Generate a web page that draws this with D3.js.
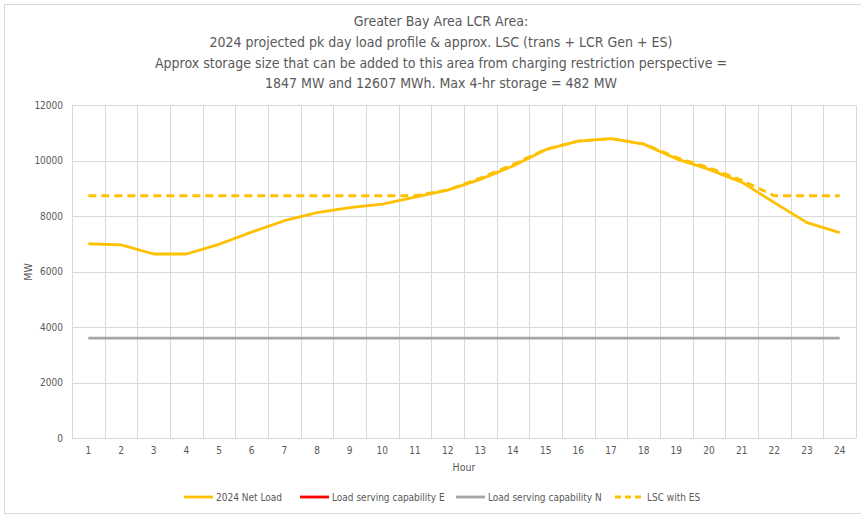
<!DOCTYPE html>
<html>
<head>
<meta charset="utf-8">
<script src="https://cdn.jsdelivr.net/npm/d3@7"></script>
<style>
  body { margin: 0; background: #fff; }
  svg text { font-family: "Liberation Sans Narrow", "DejaVu Sans Condensed", sans-serif; fill: #595959; }
</style>
</head>
<body>
<svg width="861" height="515"></svg>
<script>
var hours = [1,2,3,4,5,6,7,8,9,10,11,12,13,14,15,16,17,18,19,20,21,22,23,24]
var netLoad = [7000,6960,6630,6630,6980,7420,7830,8120,8300,8430,8680,8930,9320,9800,10390,10700,10790,10590,10060,9680,9220,8480,7760,7400]
// series E shows in the legend only, no plotted values
var lscE = [null,null,null,null,null,null,null,null,null,null,null,null,null,null,null,null,null,null,null,null,null,null,null,null]
var lscN = [3600,3600,3600,3600,3600,3600,3600,3600,3600,3600,3600,3600,3600,3600,3600,3600,3600,3600,3600,3600,3600,3600,3600,3600]
var lscES = [8730,8730,8730,8730,8730,8730,8730,8730,8730,8730,8730,8940,9370,9860,10400,10700,10790,10600,10110,9740,9290,8730,8730,8730]
var yTicks = [0,2000,4000,6000,8000,10000,12000]
var titleLines = [
  'Greater Bay Area LCR Area:',
  '2024 projected pk day load profile & approx. LSC (trans + LCR Gen + ES)',
  'Approx storage size that can be added to this area from charging restriction perspective =',
  '1847 MW and 12607 MWh. Max 4-hr storage = 482 MW'
]
var series = [
  {name: '2024 Net Load', values: netLoad, color: '#FFC000', dash: null},
  {name: 'Load serving capability E', values: lscE, color: '#FF0000', dash: null},
  {name: 'Load serving capability N', values: lscN, color: '#A5A5A5', dash: null},
  {name: 'LSC with ES', values: lscES, color: '#FFC000', dash: '8,5'}
]

var svg = d3.select('svg')
var plotL = 72, plotR = 856, plotT = 105, plotB = 438

// chart border
svg.append('rect')
    .attr('x', 4.5).attr('y', 4.5)
    .attr('width', 870).attr('height', 509)
    .style('fill', 'none')
    .style('stroke', '#D9D9D9')

var x = d3.scaleBand()
    .domain(hours)
    .range([plotL, plotR])
var y = d3.scaleLinear()
    .domain([0, 12000])
    .range([plotB, plotT])

// horizontal grid
svg.append('g')
    .selectAll('line')
    .data(yTicks)
    .enter()
    .append('line')
    .attr('x1', plotL).attr('x2', plotR)
    .attr('y1', function(d){ return Math.round(y(d)) + 0.5 })
    .attr('y2', function(d){ return Math.round(y(d)) + 0.5 })
    .style('stroke', '#D9D9D9')

// vertical grid (category boundaries)
svg.append('g')
    .selectAll('line')
    .data(hours.concat(['end']))
    .enter()
    .append('line')
    .attr('x1', function(d,i){ return Math.round(plotL + i * x.step()) + 0.5 })
    .attr('x2', function(d,i){ return Math.round(plotL + i * x.step()) + 0.5 })
    .attr('y1', plotT).attr('y2', plotB)
    .style('stroke', '#D9D9D9')

// y axis labels
var yAxis = d3.axisLeft(y).tickValues(yTicks).tickFormat(d3.format('d')).tickSize(0).tickPadding(9)
var gy = svg.append('g').attr('transform', 'translate(' + plotL + ',0)').call(yAxis)
gy.select('.domain').remove()
gy.selectAll('text').style('font-size', '10px').style('fill', '#595959')

// x axis labels
var xAxis = d3.axisBottom(x).tickSize(0).tickPadding(9)
var gx = svg.append('g').attr('transform', 'translate(0,' + plotB + ')').call(xAxis)
gx.select('.domain').remove()
gx.selectAll('text').style('font-size', '10px').style('fill', '#595959')
gy.attr('font-family', null)
gx.attr('font-family', null)

// lines
var line = d3.line()
    .defined(function(d){ return d != null })
    .x(function(d,i){ return x(hours[i]) + x.bandwidth() / 2 })
    .y(function(d){ return y(d) })

svg.append('g')
    .selectAll('path')
    .data(series)
    .enter()
    .append('path')
    .attr('d', function(d){ return line(d.values) })
    .style('fill', 'none')
    .style('stroke', function(d){ return d.color })
    .style('stroke-width', 2.8)
    .style('stroke-linejoin', 'round')
    .style('stroke-dasharray', function(d){ return d.dash })

// title
svg.append('g')
    .selectAll('text')
    .data(titleLines)
    .enter()
    .append('text')
    .attr('x', 441)
    .attr('y', function(d,i){ return 26 + i * 20.8 })
    .attr('text-anchor', 'middle')
    .style('font-size', '14px')
    .text(function(d){ return d })

// axis titles
svg.append('text')
    .attr('x', 464).attr('y', 471)
    .attr('text-anchor', 'middle')
    .style('font-size', '10.5px')
    .text('Hour')
svg.append('text')
    .attr('transform', 'translate(32,272) rotate(-90)')
    .attr('text-anchor', 'middle')
    .style('font-size', '10.5px')
    .text('MW')

// legend
var legendX = [184, 300, 456, 615]
var lg = svg.append('g')
    .selectAll('g')
    .data(series)
    .enter()
    .append('g')
    .attr('transform', function(d,i){ return 'translate(' + legendX[i] + ',497)' })
lg.append('line')
    .attr('x1', 0).attr('x2', 29)
    .style('stroke', function(d){ return d.color })
    .style('stroke-width', 2.8)
    .style('stroke-dasharray', function(d){ return d.dash ? '6,4' : null })
lg.append('text')
    .attr('x', 32).attr('y', 3.5)
    .style('font-size', '10px')
    .text(function(d){ return d.name })
</script>
</body>
</html>
